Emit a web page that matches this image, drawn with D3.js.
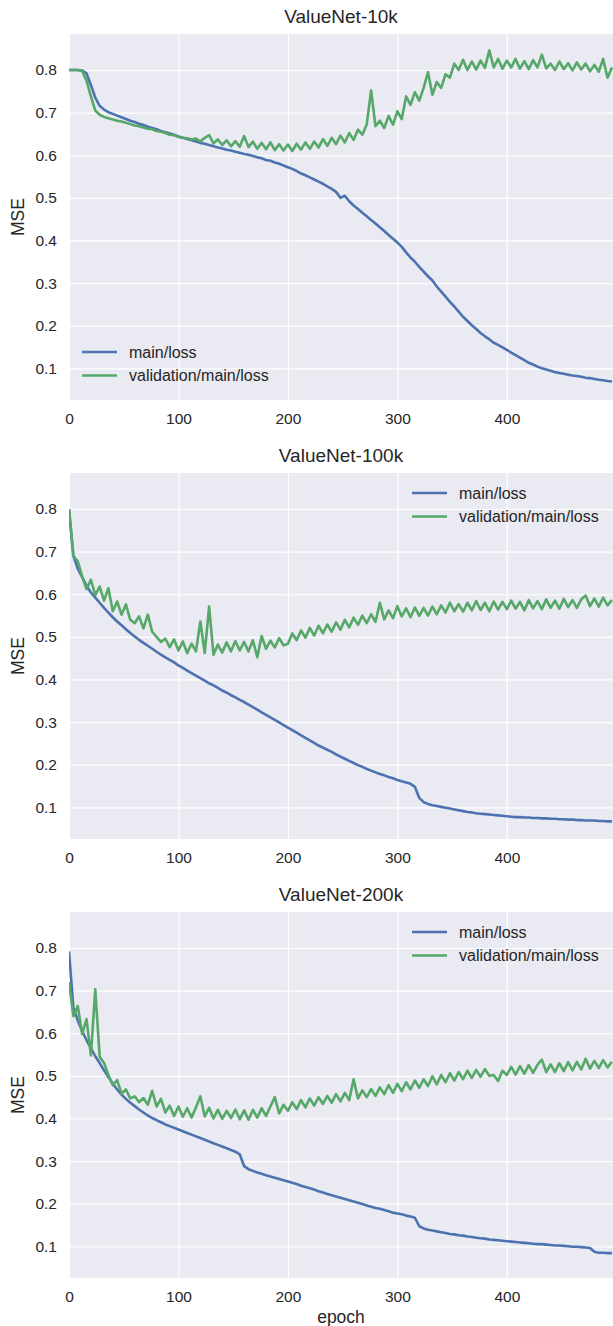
<!DOCTYPE html>
<html>
<head>
<meta charset="utf-8">
<script src="https://cdn.jsdelivr.net/npm/d3@7"></script>
<style>
  body { margin: 0; background: #fff; }
  svg text { font-family: "Liberation Sans", Arial, sans-serif; fill: #262626; }
</style>
</head>
<body>
<div id="my_dataviz"></div>
<script>
// epochs sampled every 4
var epochs = d3.range(0, 497, 4);

var titles = ["ValueNet-10k", "ValueNet-100k", "ValueNet-200k"];
var seriesNames = ["main/loss", "validation/main/loss"];
var yTicks = [0.1, 0.2, 0.3, 0.4, 0.5, 0.6, 0.7, 0.8];
var xTicks = [0, 100, 200, 300, 400];

// ValueNet-10k
var main10k = [
  0.800, 0.800, 0.800, 0.799, 0.792, 0.765, 0.735, 0.716, 0.707, 0.701,
  0.697, 0.693, 0.689, 0.685, 0.681, 0.678, 0.674, 0.671, 0.667, 0.664,
  0.661, 0.657, 0.654, 0.651, 0.648, 0.644, 0.641, 0.638, 0.635, 0.632,
  0.629, 0.627, 0.624, 0.621, 0.618, 0.616, 0.613, 0.611, 0.608, 0.606,
  0.603, 0.601, 0.598, 0.595, 0.593, 0.589, 0.587, 0.583, 0.580, 0.576,
  0.572, 0.568, 0.563, 0.557, 0.553, 0.548, 0.543, 0.538, 0.533, 0.527,
  0.521, 0.514, 0.500, 0.505, 0.492, 0.482, 0.474, 0.465, 0.457, 0.448,
  0.440, 0.431, 0.422, 0.413, 0.404, 0.395, 0.385, 0.372, 0.360, 0.350,
  0.338, 0.327, 0.316, 0.306, 0.292, 0.280, 0.268, 0.256, 0.245, 0.233,
  0.221, 0.211, 0.201, 0.192, 0.183, 0.175, 0.168, 0.160, 0.155, 0.149,
  0.143, 0.137, 0.131, 0.125, 0.119, 0.113, 0.109, 0.104, 0.100, 0.097,
  0.094, 0.091, 0.089, 0.087, 0.085, 0.083, 0.082, 0.080, 0.078, 0.077,
  0.075, 0.073, 0.072, 0.070, 0.069
];
var val10k = [
  0.800, 0.800, 0.800, 0.798, 0.775, 0.738, 0.705, 0.695, 0.690, 0.687,
  0.684, 0.681, 0.679, 0.676, 0.673, 0.670, 0.668, 0.665, 0.662, 0.661,
  0.657, 0.655, 0.652, 0.648, 0.647, 0.643, 0.641, 0.640, 0.637, 0.639,
  0.632, 0.641, 0.647, 0.628, 0.637, 0.624, 0.635, 0.621, 0.633, 0.620,
  0.645, 0.619, 0.632, 0.615, 0.629, 0.614, 0.630, 0.612, 0.626, 0.611,
  0.625, 0.610, 0.627, 0.613, 0.630, 0.615, 0.632, 0.618, 0.638, 0.622,
  0.641, 0.626, 0.646, 0.630, 0.652, 0.636, 0.660, 0.648, 0.672, 0.752,
  0.668, 0.681, 0.664, 0.692, 0.672, 0.703, 0.685, 0.738, 0.718, 0.748,
  0.728, 0.758, 0.795, 0.742, 0.772, 0.758, 0.790, 0.782, 0.815, 0.800,
  0.824, 0.800, 0.820, 0.801, 0.822, 0.805, 0.846, 0.806, 0.826, 0.803,
  0.822, 0.806, 0.826, 0.803, 0.821, 0.802, 0.823, 0.806, 0.836, 0.804,
  0.815, 0.800, 0.820, 0.802, 0.816, 0.799, 0.818, 0.801, 0.815, 0.797,
  0.812, 0.796, 0.826, 0.782, 0.806
];

// ValueNet-100k
var main100k = [
  0.800, 0.690, 0.660, 0.640, 0.620, 0.604, 0.592, 0.580, 0.568, 0.557,
  0.546, 0.536, 0.527, 0.518, 0.509, 0.501, 0.493, 0.486, 0.479, 0.472,
  0.465, 0.458, 0.452, 0.446, 0.440, 0.433, 0.427, 0.421, 0.415, 0.409,
  0.403, 0.397, 0.391, 0.386, 0.380, 0.374, 0.369, 0.363, 0.358, 0.352,
  0.347, 0.341, 0.335, 0.329, 0.323, 0.317, 0.311, 0.305, 0.299, 0.293,
  0.287, 0.281, 0.275, 0.269, 0.263, 0.257, 0.251, 0.245, 0.240, 0.235,
  0.230, 0.224, 0.219, 0.214, 0.209, 0.204, 0.199, 0.195, 0.190, 0.186,
  0.182, 0.178, 0.175, 0.171, 0.168, 0.164, 0.161, 0.158, 0.155, 0.148,
  0.122, 0.112, 0.108, 0.105, 0.103, 0.101, 0.099, 0.097, 0.095, 0.093,
  0.091, 0.089, 0.088, 0.086, 0.085, 0.084, 0.083, 0.082, 0.081, 0.080,
  0.079, 0.078, 0.077, 0.077, 0.076, 0.076, 0.075, 0.075, 0.074, 0.074,
  0.073, 0.073, 0.072, 0.072, 0.071, 0.071, 0.070, 0.070, 0.069, 0.069,
  0.069, 0.068, 0.068, 0.067, 0.067
];
var val100k = [
  0.800, 0.690, 0.677, 0.642, 0.612, 0.634, 0.598, 0.618, 0.585, 0.614,
  0.560, 0.583, 0.552, 0.576, 0.540, 0.532, 0.548, 0.520, 0.552, 0.512,
  0.500, 0.488, 0.496, 0.476, 0.494, 0.468, 0.489, 0.462, 0.484, 0.466,
  0.536, 0.462, 0.571, 0.458, 0.482, 0.463, 0.487, 0.466, 0.490, 0.468,
  0.488, 0.466, 0.492, 0.452, 0.502, 0.472, 0.491, 0.475, 0.497, 0.480,
  0.484, 0.508, 0.492, 0.515, 0.498, 0.521, 0.503, 0.526, 0.508, 0.529,
  0.512, 0.534, 0.517, 0.540, 0.522, 0.545, 0.528, 0.550, 0.532, 0.553,
  0.535, 0.580, 0.541, 0.562, 0.544, 0.572, 0.548, 0.567, 0.546, 0.569,
  0.549, 0.568, 0.550, 0.571, 0.553, 0.574, 0.557, 0.580, 0.560, 0.577,
  0.559, 0.580, 0.562, 0.584, 0.563, 0.580, 0.560, 0.583, 0.564, 0.582,
  0.565, 0.585, 0.566, 0.582, 0.562, 0.586, 0.567, 0.584, 0.565, 0.588,
  0.568, 0.585, 0.566, 0.589, 0.570, 0.586, 0.568, 0.588, 0.597, 0.572,
  0.590, 0.571, 0.592, 0.574, 0.586
];

// ValueNet-200k
var main200k = [
  0.792, 0.660, 0.630, 0.605, 0.584, 0.565, 0.546, 0.530, 0.513, 0.497,
  0.482, 0.468, 0.456, 0.446, 0.437, 0.429, 0.421, 0.414, 0.407, 0.401,
  0.396, 0.391, 0.386, 0.382, 0.378, 0.374, 0.370, 0.366, 0.362, 0.358,
  0.354, 0.350, 0.346, 0.342, 0.338, 0.334, 0.330, 0.326, 0.322, 0.316,
  0.288, 0.281, 0.277, 0.273, 0.270, 0.267, 0.264, 0.261, 0.258, 0.255,
  0.252, 0.249, 0.246, 0.242, 0.239, 0.236, 0.233, 0.229, 0.226, 0.223,
  0.220, 0.217, 0.214, 0.211, 0.208, 0.205, 0.202, 0.199, 0.196, 0.193,
  0.190, 0.188, 0.185, 0.182, 0.179, 0.177, 0.175, 0.172, 0.170, 0.167,
  0.147, 0.142, 0.139, 0.137, 0.135, 0.133, 0.131, 0.129, 0.128, 0.126,
  0.125, 0.123, 0.122, 0.120, 0.119, 0.118, 0.116, 0.115, 0.114, 0.113,
  0.112, 0.111, 0.110, 0.109, 0.108, 0.107, 0.106, 0.105, 0.105, 0.104,
  0.103, 0.102, 0.102, 0.101, 0.100, 0.099, 0.099, 0.098, 0.097, 0.096,
  0.087, 0.085, 0.085, 0.084, 0.084
];
var val200k = [
  0.720, 0.640, 0.664, 0.598, 0.633, 0.548, 0.703, 0.545, 0.530, 0.502,
  0.478, 0.490, 0.458, 0.468, 0.447, 0.452, 0.438, 0.448, 0.432, 0.465,
  0.428, 0.446, 0.414, 0.430, 0.406, 0.428, 0.404, 0.424, 0.402, 0.426,
  0.452, 0.405, 0.425, 0.400, 0.420, 0.399, 0.418, 0.401, 0.421, 0.398,
  0.419, 0.397, 0.420, 0.402, 0.424, 0.406, 0.428, 0.450, 0.412, 0.432,
  0.418, 0.438, 0.422, 0.443, 0.426, 0.447, 0.430, 0.450, 0.434, 0.453,
  0.437, 0.457, 0.440, 0.460, 0.443, 0.492, 0.447, 0.466, 0.450, 0.469,
  0.453, 0.473, 0.457, 0.478, 0.460, 0.481, 0.464, 0.485, 0.468, 0.489,
  0.472, 0.492, 0.476, 0.499, 0.480, 0.502, 0.485, 0.506, 0.489, 0.509,
  0.492, 0.512, 0.495, 0.514, 0.498, 0.516, 0.500, 0.502, 0.488, 0.512,
  0.502, 0.521, 0.503, 0.523, 0.505, 0.525, 0.507, 0.526, 0.538, 0.509,
  0.527, 0.509, 0.530, 0.511, 0.532, 0.513, 0.533, 0.515, 0.540, 0.517,
  0.535, 0.518, 0.537, 0.520, 0.533
];

var panels = [
  { title: titles[0], main: main10k, val: val10k, legend: "lowerleft" },
  { title: titles[1], main: main100k, val: val100k, legend: "upperright" },
  { title: titles[2], main: main200k, val: val200k, legend: "upperright" }
];

var colors = ["#4c72b0", "#55a868"];

// layout
var W = 613, H = 1326;
var left = 69, right = 613, plotH = 366;
var tops = [34, 473, 912];

var svg = d3.select("#my_dataviz")
    .append("svg")
    .attr("width", W)
    .attr("height", H);

svg.append("defs").append("clipPath")
    .attr("id", "clip")
    .append("rect")
    .attr("x", 0).attr("y", 0)
    .attr("width", right - left).attr("height", plotH);

var x = d3.scaleLinear()
    .domain([0, 497])
    .range([0, right - left]);

var y = d3.scaleLinear()
    .domain([0.0256, 0.8845])
    .range([plotH, 0]);

panels.forEach(function (p, k) {
    var g = svg.append("g")
        .attr("transform", "translate(" + left + "," + tops[k] + ")");

    // background
    g.append("rect")
        .attr("width", right - left)
        .attr("height", plotH)
        .attr("fill", "#eaeaf2");

    // grid + tick labels through axes
    var xAxis = g.append("g")
        .attr("transform", "translate(0," + plotH + ")")
        .call(d3.axisBottom(x).tickValues(xTicks).tickSize(-plotH).tickPadding(9).tickFormat(d3.format("d")));
    var yAxis = g.append("g")
        .call(d3.axisLeft(y).tickValues(yTicks).tickSize(-(right - left)).tickPadding(12).tickFormat(d3.format(".1f")));

    [xAxis, yAxis].forEach(function (a) {
        a.select(".domain").remove();
        a.selectAll(".tick line").attr("stroke", "#ffffff").attr("stroke-width", 1.2);
        a.selectAll(".tick text")
            .style("font-size", "15.5px")
            .style("font-family", "'Liberation Sans', Arial, sans-serif")
            .attr("fill", "#262626");
    });
    xAxis.selectAll(".tick text").attr("dy", "0.95em");

    // lines
    var line = d3.line()
        .x(function (d, i) { return x(epochs[i]); })
        .y(function (d) { return y(d); });

    var lines = g.append("g").attr("clip-path", "url(#clip)");
    [p.main, p.val].forEach(function (s, j) {
        lines.append("path")
            .datum(s)
            .attr("fill", "none")
            .attr("stroke", colors[j])
            .attr("stroke-width", 2.6)
            .attr("stroke-linejoin", "round")
            .attr("d", line);
    });

    // title
    g.append("text")
        .attr("x", (right - left) / 2)
        .attr("y", -11)
        .attr("text-anchor", "middle")
        .style("font-size", "19px")
        .text(p.title);

    // y label
    g.append("text")
        .attr("transform", "translate(" + (24 - left) + "," + (plotH / 2) + ") rotate(-90)")
        .attr("text-anchor", "middle")
        .style("font-size", "17.5px")
        .text("MSE");

    // legend
    var lx = p.legend == "lowerleft" ? 13 : 343;
    var ly = p.legend == "lowerleft" ? 318 : 20;
    seriesNames.forEach(function (name, j) {
        var yy = ly + j * 23.5;
        g.append("line")
            .attr("x1", lx).attr("x2", lx + 35)
            .attr("y1", yy).attr("y2", yy)
            .attr("stroke", colors[j])
            .attr("stroke-width", 2.6);
        g.append("text")
            .attr("x", lx + 47)
            .attr("y", yy)
            .attr("dy", "0.35em")
            .style("font-size", "16px")
            .text(name);
    });

    if (k == 2) {
        g.append("text")
            .attr("x", (right - left) / 2)
            .attr("y", plotH + 45)
            .attr("text-anchor", "middle")
            .style("font-size", "17.5px")
            .text("epoch");
    }
});
</script>
</body>
</html>
